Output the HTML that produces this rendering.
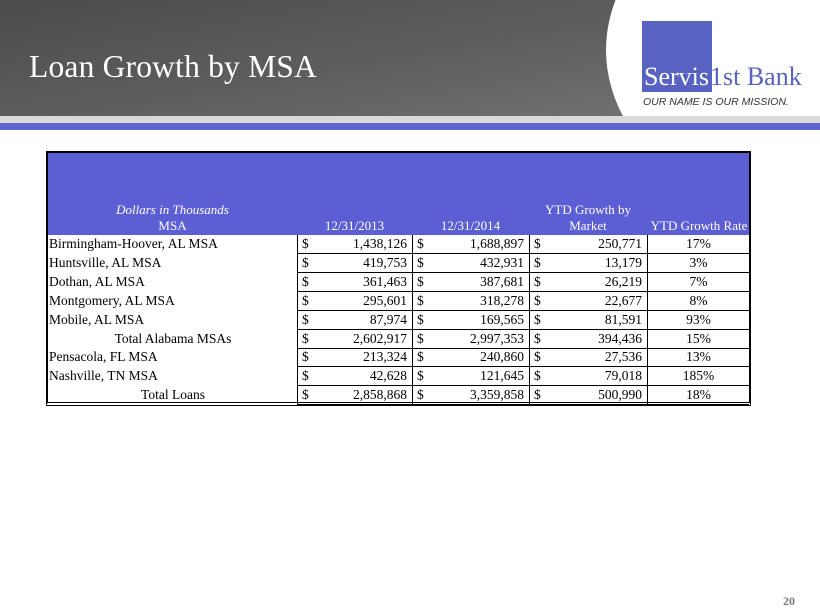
<!DOCTYPE html>
<html><head><meta charset="utf-8"><style>
*{margin:0;padding:0;box-sizing:border-box}
body{width:820px;height:615px;background:#fff;position:relative;overflow:hidden;font-family:"Liberation Serif",serif}
#hdr{position:absolute;left:0;top:0;width:820px;height:117px;background:linear-gradient(170deg,#4c4c4c 0%,#5e5e5e 50%,#767676 100%)}
#white{position:absolute;left:606px;top:-150px;width:600px;height:400px;border-radius:50%;background:#fff}
#g{position:absolute;left:0;top:116px;width:820px;height:7px;background:#d9d9d9}
#b{position:absolute;left:0;top:123px;width:820px;height:7px;background:#5d63d0}
#title{position:absolute;left:29px;top:49px;color:#fff;font-size:31.5px;letter-spacing:0.2px}
#sq{position:absolute;left:642px;top:21px;width:70px;height:71px;background:#5863c1}
#logo{position:absolute;left:644px;top:62px;font-size:26px;color:#5863c1;white-space:nowrap;letter-spacing:0px}
#logo span{color:#fff;margin-right:1px}
#tag{position:absolute;left:643px;top:96px;font-family:"Liberation Sans",sans-serif;font-style:italic;font-size:10.5px;color:#333}
#tbl{position:absolute;left:46px;top:151px;width:705px;height:255px;border:2px solid #000;border-bottom:4px double #000;background:#fff}
#th{position:absolute;left:0;top:0;width:701px;height:82px;background:#5c5fd3;color:#fff;font-size:13px}
.c{position:absolute;text-align:center}
.row{position:absolute;left:0;width:701px;height:19px;font-size:13.5px;color:#000}
.cell{position:absolute;top:0;height:19px;line-height:18px;border:1px solid #000;border-top:none}
.d{left:0;width:249px;border:none;padding-left:1px}
.n{padding-left:4px}
.n b{font-weight:normal;position:absolute;right:5px;top:0}
</style></head><body>
<div id="hdr"></div><div id="white"></div>
<div id="g"></div><div id="b"></div>
<div id="title">Loan Growth by MSA</div>
<div id="sq"></div>
<div id="logo"><span>Servis</span>1st Bank</div>
<div id="tag">OUR NAME IS OUR MISSION.</div>
<div id="tbl">
<div id="th">
<div class="c" style="left:0;width:249px;top:49px;font-style:italic">Dollars in Thousands</div>
<div class="c" style="left:0;width:249px;top:65px">MSA</div>
<div class="c" style="left:249px;width:115px;top:65px">12/31/2013</div>
<div class="c" style="left:364px;width:117px;top:65px">12/31/2014</div>
<div class="c" style="left:481px;width:118px;top:49px">YTD Growth by</div>
<div class="c" style="left:481px;width:118px;top:65px">Market</div>
<div class="c" style="left:599px;width:104px;top:65px">YTD Growth Rate</div>
</div>
<div id="rows"></div>
</div>
<div style="position:absolute;left:783px;top:594px;font-size:12px;font-weight:bold;color:#777">20</div>
<script>
var d=[["Birmingham-Hoover, AL MSA","1,438,126","1,688,897","250,771","17%"],
["Huntsville, AL MSA","419,753","432,931","13,179","3%"],
["Dothan, AL MSA","361,463","387,681","26,219","7%"],
["Montgomery, AL MSA","295,601","318,278","22,677","8%"],
["Mobile, AL MSA","87,974","169,565","81,591","93%"],
["Total Alabama MSAs","2,602,917","2,997,353","394,436","15%",1],
["Pensacola, FL MSA","213,324","240,860","27,536","13%"],
["Nashville, TN MSA","42,628","121,645","79,018","185%"],
["Total Loans","2,858,868","3,359,858","500,990","18%",1]];
var h="";
d.forEach(function(r,i){
h+='<div class="row" style="top:'+(82+i*18.9)+'px">';
h+='<div class="cell d" style="'+(r[5]?'text-align:center':'')+'">'+r[0]+'</div>';
h+='<div class="cell n" style="left:249px;width:116px">$<b>'+r[1]+'</b></div>';
h+='<div class="cell n" style="left:364px;width:118px">$<b>'+r[2]+'</b></div>';
h+='<div class="cell n" style="left:481px;width:119px">$<b>'+r[3]+'</b></div>';
h+='<div class="cell" style="left:599px;width:102px;text-align:center;border-right:none">'+r[4]+'</div>';
h+='</div>';});
document.getElementById("rows").innerHTML=h;
</script>
</body></html>
